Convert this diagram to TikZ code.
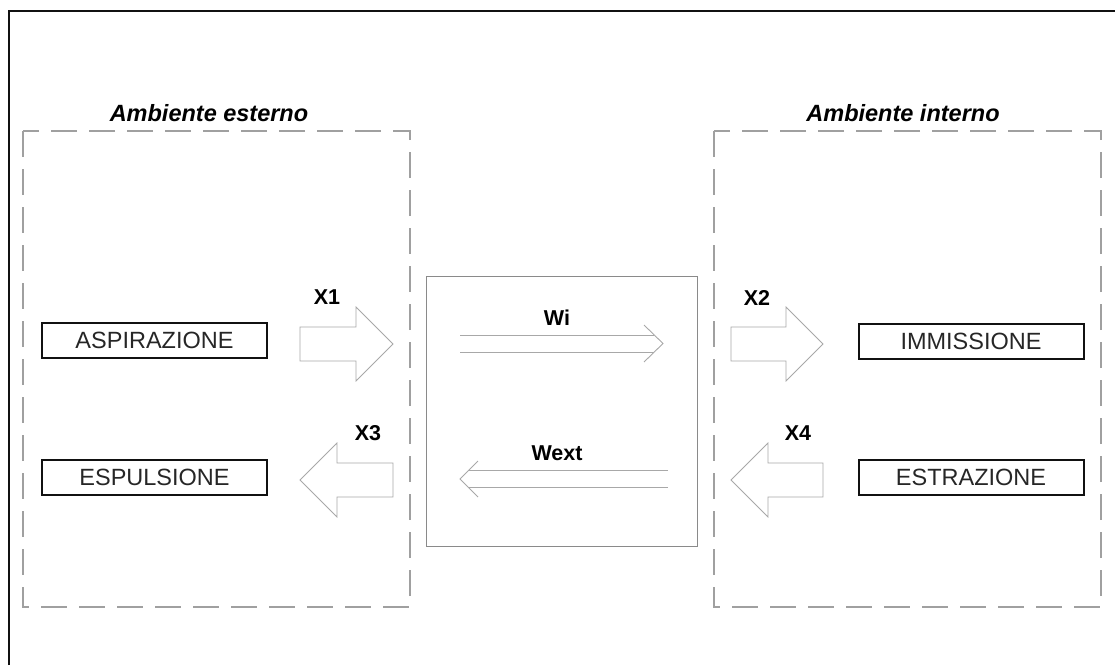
\documentclass[tikz,border=0pt]{standalone}
\usepackage{fontspec}
\setmainfont{Liberation Sans}
\usetikzlibrary{positioning}

\definecolor{frameblack}{HTML}{111111}
\definecolor{dashgray}{HTML}{A0A0A0}
\definecolor{arrowgray}{HTML}{A8A8A8}
\definecolor{coregray}{HTML}{8A8A8A}

\tikzset{
	flowbox/.style={draw=frameblack, line width=2pt, minimum width=225pt, minimum height=35pt,
		inner sep=0pt, font=\fontsize{23.5}{27}\selectfont, text=black!85},
	envbox/.style={draw=dashgray, line width=1.2pt, dash pattern=on 26pt off 12pt},
	envlabel/.style={font=\fontsize{23.5}{27}\selectfont\bfseries\itshape},
	flowlabel/.style={font=\fontsize{21.5}{25}\selectfont\bfseries},
	blockarrow/.style={draw=arrowgray, line width=0.8pt, fill=white, line join=miter},
	thinarrow/.style={draw=arrowgray, line width=0.9pt}
}

\begin{document}
\begin{tikzpicture}[x=1pt, y=-1pt]
		\useasboundingbox (0,0) rectangle (1115,665);
		% cornice esterna
		\draw[frameblack, line width=2.5pt] (9,665) -- (9,11) -- (1115,11);
		
		% ambienti
		\draw[envbox] (23,131) rectangle (410,607);
		\draw[envbox] (714,131) rectangle (1101,607);
		\node[envlabel] (esterno) at (209,113) {Ambiente esterno};
		\node[envlabel] (interno) at (903,113) {Ambiente interno};
		
		% unita centrale
		\node[draw=coregray, line width=1pt, minimum width=271pt, minimum height=270pt] (core) at (561.5,411) {};
		
		% bocchette
		\node[flowbox] (aspirazione) at (154.5,340.5) {ASPIRAZIONE};
		\node[flowbox] (espulsione) at (154.5,477) {ESPULSIONE};
		\node[flowbox] (immissione) at (971,341) {IMMISSIONE};
		\node[flowbox] (estrazione) at (971,477) {ESTRAZIONE};
		
		% frecce di portata
		\foreach \xt/\xp/\yc in {300/393/344, 731/823/344, 393/300/480, 823/731/480} {
			\pgfmathsetmacro\xb{\xp-37*sign(\xp-\xt)}
			\draw[blockarrow] (\xt,\yc-17) -- (\xb,\yc-17) -- (\xb,\yc-37) -- (\xp,\yc)
				-- (\xb,\yc+37) -- (\xb,\yc+17) -- (\xt,\yc+17) -- cycle;
		}
		\node[flowlabel] (x1) at (327,297) {X1};
		\node[flowlabel] (x2) at (757,298) {X2};
		\node[flowlabel] (x3) at (368,433) {X3};
		\node[flowlabel] (x4) at (798,433) {X4};
		
		% flussi interni
		\draw[thinarrow] (460,335) -- (654,335);
		\draw[thinarrow] (460,352) -- (654,352);
		\draw[thinarrow] (644,325) -- (663,343.5) -- (644,362);
		\draw[thinarrow] (668,470.5) -- (469,470.5);
		\draw[thinarrow] (668,487.5) -- (469,487.5);
		\draw[thinarrow] (478,461) -- (460,479) -- (478,497);
		\node[flowlabel] (wi) at (557,318) {Wi};
		\node[flowlabel] (wext) at (557,453) {Wext};
	\end{tikzpicture}
\end{document}
